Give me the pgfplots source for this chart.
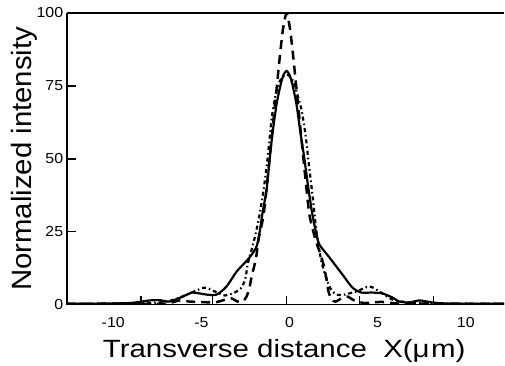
\documentclass[border=0pt]{standalone}
\usepackage{fontspec}
\setmainfont{Liberation Sans}
\newfontfamily\xlabfont[FakeStretch=1.18]{Liberation Sans}
\newfontfamily\ylabfont[FakeStretch=1.05]{Liberation Sans}
\newfontfamily\tickfont[FakeStretch=1.1]{Liberation Sans}
\usepackage{pgfplots}
\pgfplotsset{compat=1.18}
\begin{document}
\begin{tikzpicture}
\begin{axis}[
  scale only axis, width=438bp, height=292bp,
  xmin=-12.63, xmax=12.18, ymin=0, ymax=100,
  axis y line*=left,
  xtick pos=bottom,
  tick align=inside,
  major tick length=9bp,
  xtick={-8.44,-4.36,-0.17,3.97,8.16}, xticklabels={},
  extra x ticks={-10,-5,0,5,10}, extra x tick labels={-10,-5,0,5,10},
  extra x tick style={major tick length=0pt},
  ytick={0,25,50,75,100}, yticklabels={0,25,50,75,100},
  tick style={line width=1.6bp, black},
  axis line style={line width=1.6bp},
  ticklabel style={font=\tickfont\fontsize{14.5bp}{16bp}\selectfont},
  yticklabel style={inner sep=3.5bp},
  xticklabel style={anchor=base, yshift=-23.5bp},
  xlabel={Transverse distance\ \ X(μ\kern1.5bp m)},
  ylabel={Normalized intensity},
  xlabel style={at={(axis description cs:0.497,-0.1815)}, anchor=base, font=\xlabfont\fontsize{25bp}{27bp}\selectfont},
  ylabel style={at={(axis description cs:-0.0799,0.5)}, anchor=base, font=\ylabfont\fontsize{28bp}{30bp}\selectfont},
]
% solid
\addplot[black, line width=2.2bp, smooth, tension=0.4] coordinates {
(-12.63,0.3) (-10.76,0.3) (-9.07,0.5) (-7.93,1.4) (-7.37,1.5) (-6.80,1.0) (-6.06,2.7) (-5.50,4.1) (-4.70,3.4) (-4.14,3.4) (-3.57,6.2) (-3.00,11.3) (-2.27,16.1) (-1.87,19.9) (-1.70,24.7) (-1.53,31.5) (-1.30,39.4) (-1.13,49.7) (-0.96,58.9) (-0.74,68.5) (-0.51,75.3) (-0.34,78.8) (-0.17,80.1) (0,78.8) (0.17,75.3) (0.40,68.5) (0.62,58.9) (0.85,49.7) (1.08,39.4) (1.30,30.8) (1.53,24.0) (1.70,20.5) (2.27,16.1) (3.00,10.3) (3.57,5.8) (4.08,4.1) (4.70,4.1) (5.27,3.8) (5.84,2.4) (6.23,1.0) (6.80,0.7) (7.37,1.4) (8.10,0.7) (9.07,0.3) (12.18,0.3)
};
% dashed
\addplot[black, line width=2.5bp, dash pattern=on 9bp off 6bp, smooth, tension=0.4] coordinates {
(-12.63,0.2) (-9.63,0.3) (-7.08,0.3) (-6.23,1.4) (-5.67,1.0) (-5.10,0.9) (-4.25,0.7) (-3.63,1.7) (-3.29,2.1) (-2.95,1.0) (-2.66,1.0) (-2.44,2.7) (-2.27,5.8) (-2.15,9.6) (-1.98,13.7) (-1.87,17.1) (-1.76,22.3) (-1.47,30.8) (-1.25,42.8) (-1.08,53.1) (-0.91,63.4) (-0.74,73.6) (-0.57,83.9) (-0.40,93.2) (-0.28,97.6) (-0.17,100) (-0.06,97.6) (0.06,93.2) (0.23,83.9) (0.40,73.6) (0.57,63.4) (0.74,53.1) (0.91,42.8) (1.13,30.8) (1.47,22.3) (1.70,18.2) (1.93,13.7) (2.10,8.6) (2.21,4.5) (2.38,1.7) (2.61,1.0) (2.95,2.1) (3.29,2.7) (3.68,1.4) (4.25,0.5) (5.21,0.9) (6.23,0.3) (8.50,0.3) (12.18,0.2)
};
% dash-dot
\addplot[black, line width=2.2bp, dash pattern=on 4bp off 3bp on 1.5bp off 3bp, smooth, tension=0.4] coordinates {
(-12.63,0.3) (-9.07,0.3) (-7.37,0.7) (-6.52,1.7) (-5.67,3.8) (-4.82,5.8) (-4.25,4.5) (-3.68,3.1) (-3.12,4.1) (-2.72,5.8) (-2.49,9.2) (-2.38,13.7) (-2.15,18.8) (-1.93,24.0) (-1.70,30.8) (-1.47,39.4) (-1.25,49.7) (-1.02,63.4) (-0.79,71.9) (-0.57,76.4) (-0.34,78.4) (-0.17,78.8) (0,78.4) (0.23,76.4) (0.45,71.9) (0.68,66.8) (0.91,58.2) (1.10,47.9) (1.30,37.7) (1.50,26.4) (1.64,20.5) (1.81,14.7) (2.04,9.9) (2.32,5.5) (2.66,3.4) (3.12,3.4) (3.80,4.5) (4.53,6.2) (5.10,4.5) (5.84,1.7) (6.80,0.7) (8.50,0.3) (12.18,0.3)
};
\end{axis}
\path (current axis.north east) ++(0,13bp);
\path (current axis.south west) ++(-67bp,-57bp);
\end{tikzpicture}
\end{document}
